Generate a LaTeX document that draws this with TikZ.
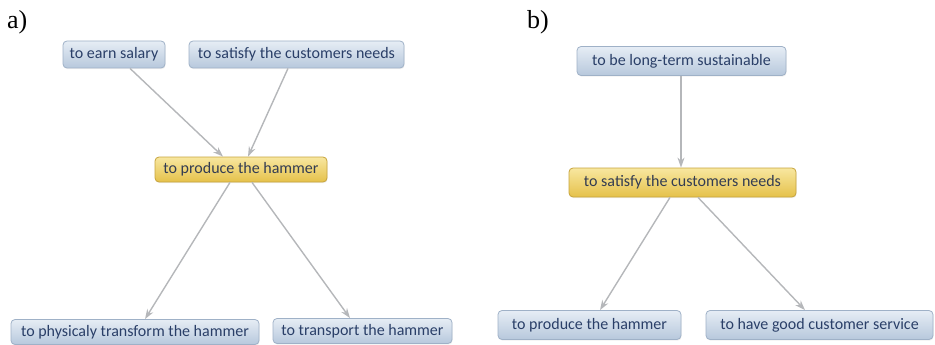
\documentclass[tikz,border=0pt]{standalone}
\usepackage{fontspec}
\setmainfont{Liberation Serif}
\newfontfamily\boxfont{Carlito}
\usetikzlibrary{arrows.meta,shadows}

\definecolor{goalblue}{HTML}{2A3F68}
\definecolor{focustext}{HTML}{333C52}
\definecolor{bluetop}{HTML}{E6EDF5}
\definecolor{bluebot}{HTML}{B7C8DC}
\definecolor{blueedge}{HTML}{9FB1C7}
\definecolor{goldtop}{HTML}{F8E7A0}
\definecolor{goldbot}{HTML}{E5C14A}
\definecolor{goldedge}{HTML}{C6A33C}
\definecolor{linkgray}{HTML}{B5B7BA}

\tikzset{
  goal/.style={rounded corners=4pt, draw=blueedge, line width=0.8pt,
    top color=bluetop, bottom color=bluebot, text=goalblue,
    font=\boxfont\fontsize{16}{18}\selectfont, inner sep=0pt,
    drop shadow={opacity=0.12, shadow xshift=0.6pt, shadow yshift=-1.2pt}},
  focus/.style={goal, draw=goldedge, top color=goldtop, bottom color=goldbot,
    text=focustext},
  link/.style={draw=linkgray, line width=1.4pt,
    -{Stealth[length=10pt, width=7pt]}},
  panel/.style={font=\fontsize{26}{28}\selectfont, anchor=base west, inner sep=0pt}
}

\begin{document}
\begin{tikzpicture}[x=1pt, y=-1pt]
\useasboundingbox (0,0) rectangle (935,345);

% panel a
\node[panel] (la) at (7,29) {a)};
\node[goal, minimum width=102pt, minimum height=27pt] (earn) at (114,54.5) {to earn salary};
\node[goal, minimum width=215pt, minimum height=27pt] (needsA) at (296.5,54.5) {to satisfy the customers needs};
\node[focus, minimum width=172pt, minimum height=25pt] (prodA) at (241,169.5) {to produce the hammer};
\node[goal, minimum width=248pt, minimum height=25pt] (phys) at (135,332) {to physicaly transform the hammer};
\node[goal, minimum width=179pt, minimum height=25pt] (trans) at (362.5,331) {to transport the hammer};

\draw[link] ([xshift=16pt]earn.south) -- ([xshift=-18pt]prodA.north);
\draw[link] ([xshift=-8.5pt]needsA.south) -- ([xshift=7pt]prodA.north);
\draw[link] ([xshift=-11pt]prodA.south) -- ([xshift=10pt]phys.north);
\draw[link] ([xshift=11pt]prodA.south) -- ([xshift=-12.5pt]trans.north);

% panel b
\node[panel] (lb) at (527,29) {b)};
\node[goal, minimum width=209pt, minimum height=29pt] (sust) at (681.5,61) {to be long-term sustainable};
\node[focus, minimum width=227pt, minimum height=29pt] (needsB) at (682.5,182.5) {to satisfy the customers needs};
\node[goal, minimum width=183pt, minimum height=29pt] (prodB) at (589.5,325) {to produce the hammer};
\node[goal, minimum width=227pt, minimum height=29pt] (serv) at (819.5,325) {to have good customer service};

\draw[link] ([xshift=-0.5pt]sust.south) -- ([xshift=-1.5pt]needsB.north);
\draw[link] ([xshift=-12.5pt]needsB.south) -- ([xshift=10.5pt]prodB.north);
\draw[link] ([xshift=15.5pt]needsB.south) -- ([xshift=-14.5pt]serv.north);
\end{tikzpicture}
\end{document}
